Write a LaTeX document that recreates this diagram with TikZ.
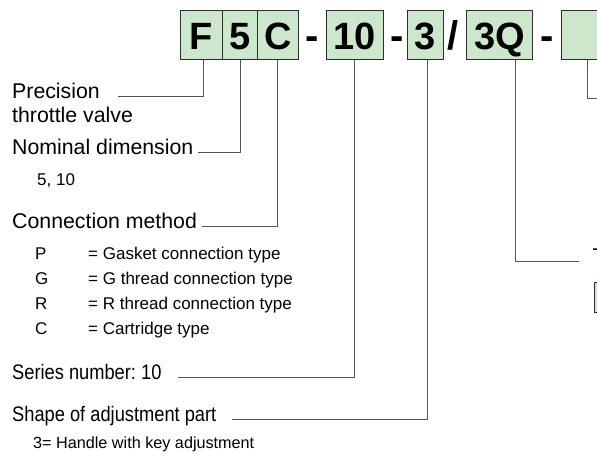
\documentclass[tikz,border=0pt]{standalone}
\usepackage{fontspec}
\setmainfont{Liberation Sans}
\newfontfamily\narrowsans[FakeStretch=0.87]{Liberation Sans}
\definecolor{cgreen}{RGB}{204,231,204}
\definecolor{cline}{RGB}{85,85,85}
\definecolor{cedge}{RGB}{45,45,45}
\tikzset{typecode/.style={x=1pt,y=-1pt,font=\fontsize{21.3}{24}\selectfont}}
\frenchspacing

\begin{document}
\begin{tikzpicture}[typecode,
    code/.style={draw=cedge,line width=1pt,fill=cgreen,anchor=north west,minimum height=49pt,
      inner sep=0pt,text height=29pt,text depth=0pt,font=\fontsize{38}{40}\selectfont\bfseries},
    sep/.style={anchor=base,inner sep=0pt,font=\fontsize{40}{40}\selectfont\bfseries},
    lbl/.style={anchor=mid west,inner sep=0pt},
    nlbl/.style={lbl,font=\narrowsans\fontsize{21}{24}\selectfont},
    item/.style={anchor=mid west,inner sep=0pt,font=\fontsize{17}{20}\selectfont},
    lead/.style={draw=cline,line width=0.8pt}]
    \useasboundingbox (0,0) rectangle (597,459);
    \clip (0,0) rectangle (597,459);
    % code boxes
    \node[code,minimum width=42pt] (bF) at (180,10) {F};
    \node[code,minimum width=35pt] (b5) at (222,10) {5};
    \node[code,minimum width=41pt] (bC) at (257,10) {C};
    \node[sep] (d1) at (312,49) {-};
    \node[code,minimum width=57pt] (b10) at (326,10) {10};
    \node[sep] (d2) at (397,49) {-};
    \node[code,minimum width=36pt] (b3) at (407,10) {3};
    \node[sep] (sl) at (453,49) {/};
    \node[code,minimum width=66pt] (b3Q) at (466,10) {3Q};
    \node[sep] (d3) at (547,49) {-};
    \node[code,minimum width=70pt] (bX) at (561,10) {};
    \node[code,minimum width=60pt,minimum height=30pt,text height=0pt] (bY) at (594,282) {};
    \coordinate (xEnd) at (600,98);
    % labels
    \node[lbl] (lPrec) at (12,96) {Precision};
    \node[lbl] (lThr) at (12,120) {throttle valve};
    \node[lbl] (lNom) at (12,152) {Nominal dimension};
    \node[item] (lNomV) at (37,183) {5, 10};
    \node[lbl] (lCon) at (12,226) {Connection method};
    \foreach \k/\t [count=\i] in {P/Gasket connection type,G/G thread connection type,
        R/R thread connection type,C/Cartridge type} {
      \node[item] (k\i) at (35,{232+25*\i}) {\k};
      \node[item] (t\i) at (88,{232+25*\i}) {= \t};
    }
    \node[nlbl] (lSer) at (12,377) {Series number: 10};
    \node[nlbl] (lShp) at (12,419) {Shape of adjustment part};
    \node[item,font=\fontsize{16.2}{20}\selectfont] (lShpV) at (33,446) {3= Handle with key adjustment};
    \node[lbl] (lT) at (592.5,261) {T};
    % leaders
    \draw[lead] ([xshift=23pt]bF.south west) |- ([xshift=18pt]lPrec.mid east);
    \draw[lead] ([xshift=18pt]b5.south west) |- ([xshift=4pt]lNom.mid east);
    \draw[lead] ([xshift=20pt]bC.south west) |- ([xshift=5pt]lCon.mid east);
    \draw[lead] ([xshift=28pt]b10.south west) |- ([xshift=16pt]lSer.mid east);
    \draw[lead] ([xshift=20pt]b3.south west) |- ([xshift=15pt]lShp.mid east);
    \draw[lead] ([xshift=49pt]b3Q.south west) |- ([xshift=-13.5pt]lT.mid west);
    \draw[lead] ([xshift=26pt]bX.south west) |- (xEnd);
  \end{tikzpicture}
\end{document}
